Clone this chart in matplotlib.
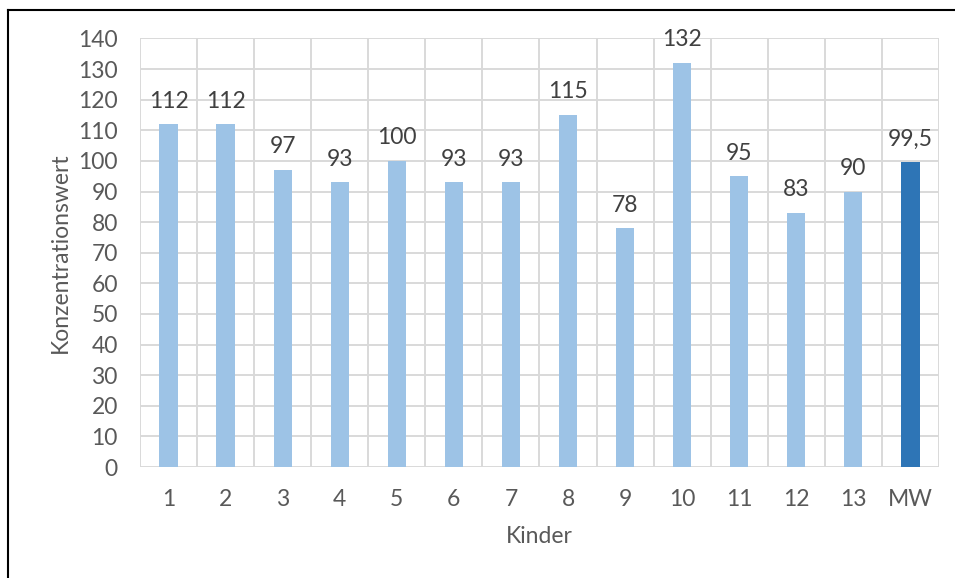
import numpy as np
import matplotlib
matplotlib.use("Agg")
import matplotlib.pyplot as plt
from matplotlib.lines import Line2D

# ================================================================================
kinder = ["1", "2", "3", "4", "5", "6", "7", "8", "9", "10", "11", "12", "13", "MW"]
werte = [112, 112, 97, 93, 100, 93, 93, 115, 78, 132, 95, 83, 90, 99.5]
wert_labels = ["112", "112", "97", "93", "100", "93", "93", "115", "78", "132", "95", "83", "90", "99,5"]
y_ticks = [0, 10, 20, 30, 40, 50, 60, 70, 80, 90, 100, 110, 120, 130, 140]

hell = "#9DC3E6"
dunkel = "#2E75B6"
grau_text = "#595959"
grau_grid = "#D9D9D9"
fs = 16.5

plt.rcParams['font.family'] = ['Lato', 'DejaVu Sans']

# ================================================================================
fig = plt.figure(figsize=(9.55, 5.78), dpi=100)
ax = fig.add_axes([0.1466, 0.192, 0.8366, 0.7414])

x = np.arange(len(kinder))
farben = [hell] * (len(kinder) - 1) + [dunkel]
ax.bar(x, werte, width=0.32, color=farben, zorder=3)

for xi, w, lab in zip(x, werte, wert_labels):
    ax.annotate(lab, (xi, w), xytext=(0, 12), textcoords="offset points",
                ha="center", va="baseline", fontsize=fs, color="#404040", zorder=4)

ax.set_xlim(-0.5, len(kinder) - 0.5)
ax.set_ylim(0, 140)
ax.set_yticks(y_ticks)
ax.set_xticks(x)
ax.set_xticklabels(kinder)
ax.set_xticks(np.arange(-0.5, len(kinder), 1.0), minor=True)

ax.grid(axis="y", which="major", color=grau_grid, linewidth=1.4, zorder=0)
ax.grid(axis="x", which="minor", color=grau_grid, linewidth=1.4, zorder=0)
ax.grid(axis="x", which="major", visible=False)
for s in ax.spines.values():
    s.set_visible(False)

ax.tick_params(axis="both", which="both", length=0, labelsize=fs, labelcolor=grau_text)
ax.tick_params(axis="y", pad=16)
ax.tick_params(axis="x", pad=16)

ax.set_ylabel("Konzentrationswert", fontsize=fs, color=grau_text, va="center")
ax.set_xlabel("Kinder", fontsize=fs, color=grau_text, va="center")
ax.yaxis.set_label_coords(-0.100, 0.5)
ax.xaxis.set_label_coords(0.5, -0.163)

# black frame (left and top edges)
fig.add_artist(Line2D([8 / 955, 8 / 955], [0, 1 - 9.5 / 578], color="black", linewidth=1.5,
                      transform=fig.transFigure))
fig.add_artist(Line2D([8 / 955, 1], [1 - 9.5 / 578, 1 - 9.5 / 578], color="black", linewidth=1.5,
                      transform=fig.transFigure))

fig.savefig("out.png", dpi=100)
